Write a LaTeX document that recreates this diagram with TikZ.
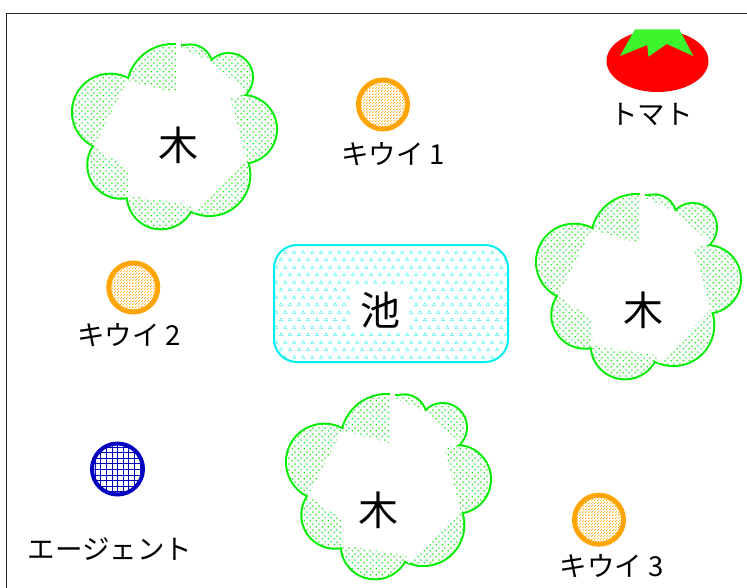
\documentclass[tikz,border=0pt]{standalone}
\usepackage{fontspec}
\setmainfont{Noto Sans CJK JP}
\usetikzlibrary{patterns,shapes.geometric}

\definecolor{treegreen}{RGB}{0,236,0}
\definecolor{pondcyan}{RGB}{0,238,238}
\definecolor{kiwiorange}{RGB}{255,165,0}
\definecolor{agentblue}{RGB}{0,0,190}
\definecolor{tomatored}{RGB}{255,0,0}
\definecolor{calyxgreen}{RGB}{60,245,45}

% staggered dots for the tree crowns
\pgfdeclarepatternformonly{treedots}{\pgfpointorigin}{\pgfqpoint{5.6pt}{5.6pt}}{\pgfqpoint{5.6pt}{5.6pt}}{%
  \pgfpathcircle{\pgfqpoint{1.4pt}{1.4pt}}{0.9pt}%
  \pgfpathcircle{\pgfqpoint{4.2pt}{4.2pt}}{0.9pt}%
  \pgfusepath{fill}}
% fine dots for the kiwis
\pgfdeclarepatternformonly{kiwidots}{\pgfpointorigin}{\pgfqpoint{3pt}{3pt}}{\pgfqpoint{3pt}{3pt}}{%
  \pgfpathcircle{\pgfqpoint{0.75pt}{0.75pt}}{0.68pt}%
  \pgfpathcircle{\pgfqpoint{2.25pt}{2.25pt}}{0.68pt}%
  \pgfusepath{fill}}
% little three-dot ripples for the pond
\pgfdeclarepatternformonly{ripples}{\pgfpointorigin}{\pgfqpoint{9pt}{14.6pt}}{\pgfqpoint{9pt}{14.6pt}}{%
  \pgfpathcircle{\pgfqpoint{1.05pt}{2.75pt}}{0.8pt}%
  \pgfpathcircle{\pgfqpoint{3.45pt}{2.75pt}}{0.8pt}%
  \pgfpathcircle{\pgfqpoint{2.25pt}{4.8pt}}{0.8pt}%
  \pgfpathcircle{\pgfqpoint{5.55pt}{10.05pt}}{0.8pt}%
  \pgfpathcircle{\pgfqpoint{7.95pt}{10.05pt}}{0.8pt}%
  \pgfpathcircle{\pgfqpoint{6.75pt}{12.1pt}}{0.8pt}%
  \pgfusepath{fill}}
% square mesh for the agent
\pgfdeclarepatternformonly{mesh}{\pgfqpoint{-1pt}{-1pt}}{\pgfqpoint{6pt}{6pt}}{\pgfqpoint{5.6pt}{5.6pt}}{%
  \pgfsetlinewidth{1pt}%
  \pgfpathmoveto{\pgfqpoint{0pt}{-1pt}}\pgfpathlineto{\pgfqpoint{0pt}{6pt}}%
  \pgfpathmoveto{\pgfqpoint{-1pt}{0pt}}\pgfpathlineto{\pgfqpoint{6pt}{0pt}}%
  \pgfusepath{stroke}}

% crown puffs and the bare middle of a tree, in local coordinates
\newcommand\crownpuffs{%
  (106.7,50) circle (45)
  (124.3,26.7) circle (21.3)
  (162.7,37.3) circle (23.3)
  (176.7,89.3) circle (33.3)
  (143.3,135) circle (40)
  (95,155) circle (33.3)
  (55,125) circle (32.7)
  (44.3,72) circle (37.3)}
\newcommand\crownhole{%
  (61.7,40.7) -- (110,53.3) -- (110,8) -- (115,8) -- (145,21.7) -- (180.7,53.3)
  -- (164,58.3) -- (180,120) -- (128.3,173.3) -- (126,165) -- (62.7,155.3)
  -- (61.7,128.3) -- (28.3,106) -- cycle}

\newcommand\drawtree[3]{%
  \begin{scope}[shift={#1}]
    \draw[crownline] \crownpuffs;
    \fill[white] \crownpuffs;
    \fill[pattern=treedots, pattern color=treegreen] \crownpuffs;
    \fill[white] \crownhole;
    \fill[white] (110,2) rectangle (115,11);
    \node[biglabel] (#2) at #3 {木};
  \end{scope}}

\tikzset{
  crownline/.style={draw=treegreen, line width=4pt},
  biglabel/.style={font=\fontsize{40}{44}\selectfont, inner sep=0pt},
  caption/.style={font=\fontsize{27.5}{31}\selectfont, inner sep=0pt},
  kiwi/.style={circle, draw=kiwiorange, line width=5pt, minimum size=49pt, inner sep=0pt,
    pattern=kiwidots, pattern color=kiwiorange},
  agent/.style={circle, draw=agentblue, line width=4pt, minimum size=51pt, inner sep=0pt,
    pattern=mesh, pattern color=agentblue},
  pondbox/.style={rectangle, draw=pondcyan, line width=2pt, rounded corners=23pt,
    minimum width=234pt, minimum height=117pt, inner sep=0pt,
    pattern=ripples, pattern color=pondcyan},
  tomatobody/.style={ellipse, fill=tomatored, minimum width=102pt, minimum height=62pt, inner sep=0pt},
}

\begin{document}
\begin{tikzpicture}[x=1pt, y=-1pt]
  \useasboundingbox (0,0) rectangle (747,587);
  \fill[white] (0,0) rectangle (747,587);

  % field border
  \draw[black!85, line width=1.5pt] (6.5,600) |- (760,13.3);

  % trees
  \drawtree{(66,40)}{tree1}{(112.3,105)}
  \drawtree{(530,190)}{tree2}{(113,120)}
  \drawtree{(280,390)}{tree3}{(98.3,120.7)}

  % pond
  \node[pondbox] (pond) at (391,303.5) {};
  \node[biglabel, fill=white, minimum width=58pt, minimum height=44pt] (pondlabel) at (380,310) {池};

  % kiwis
  \node[kiwi] (kiwi1) at (383,104.5) {};
  \node[caption] (kiwi1text) at (393,154) {キウイ 1};
  \node[kiwi] (kiwi2) at (133.3,287.5) {};
  \node[caption] (kiwi2text) at (129,335.5) {キウイ 2};
  \node[kiwi] (kiwi3) at (599,519.7) {};
  \node[caption] (kiwi3text) at (611.7,566) {キウイ 3};

  % tomato
  \node[tomatobody] (tomato) at (657.5,61) {};
  \fill[calyxgreen] (635,29.3) -- (679.3,29.3) -- (693.3,56) -- (666.7,44)
    -- (648.3,56.7) -- (647.3,45) -- (620,56) -- cycle;
  \node[caption] (tomatotext) at (651.7,114) {トマト};

  % agent
  \node[agent] (agent) at (117.5,469) {};
  \node[caption] (agenttext) at (110,549) {エージェント};
\end{tikzpicture}
\end{document}
